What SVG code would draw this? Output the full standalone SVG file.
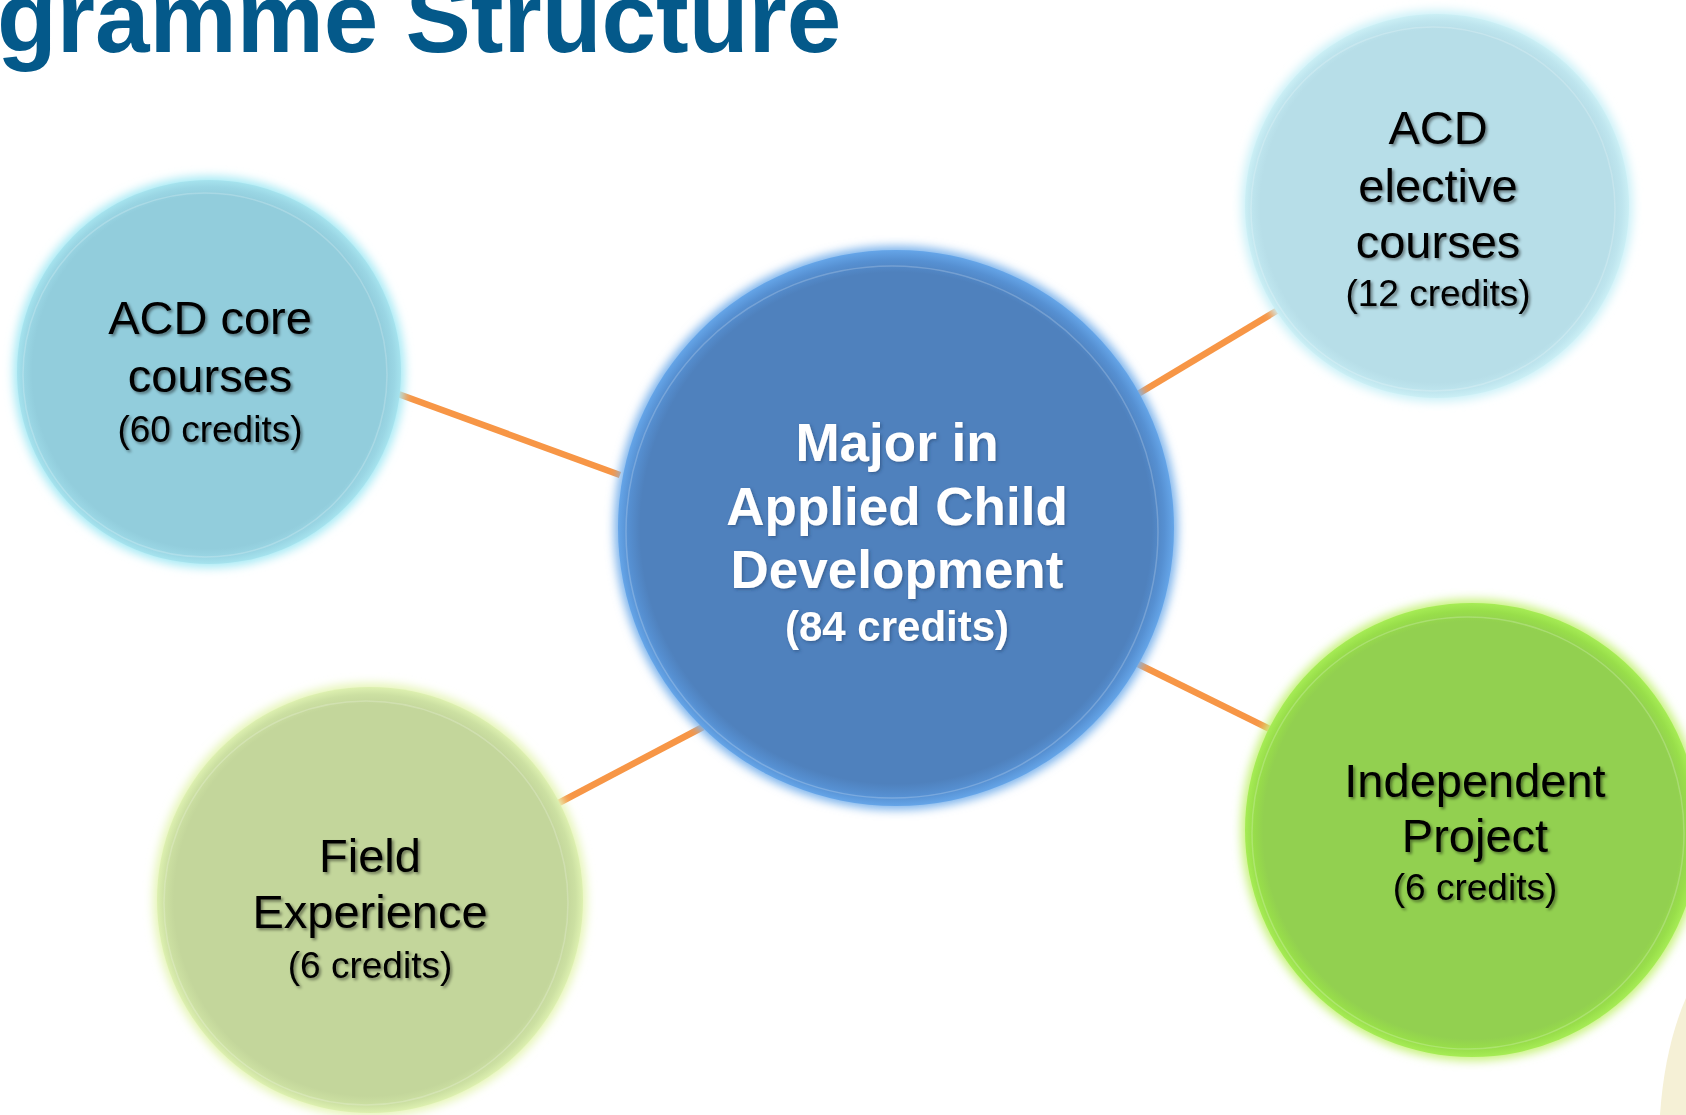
<svg xmlns="http://www.w3.org/2000/svg" width="1686" height="1115" viewBox="0 0 1686 1115">
<style>
.conn{stroke:#F79646;stroke-width:6.5;stroke-linecap:butt;fill:none}
.lbl{font-family:"Liberation Sans",Arial,sans-serif;text-anchor:middle;fill:#000}
.big{font-size:47px}
.small{font-size:37px}
.mainT{fill:#fff;font-weight:bold}
.title{font-family:"Liberation Sans",Arial,sans-serif;font-weight:bold;font-size:98px;fill:#04598A}
.ring{fill:none;stroke:#fff;stroke-opacity:0.2;stroke-width:1.5}
</style>
<defs>
<filter id="glow" x="-20%" y="-20%" width="140%" height="140%"><feGaussianBlur stdDeviation="5"/></filter>
<filter id="tsh" x="-10%" y="-30%" width="120%" height="160%"><feDropShadow dx="2" dy="2" stdDeviation="1.6" flood-color="#000" flood-opacity="0.45"/></filter>
<filter id="tshw" x="-10%" y="-30%" width="120%" height="160%"><feDropShadow dx="1.5" dy="1.5" stdDeviation="1.5" flood-color="#1c3a66" flood-opacity="0.5"/></filter>
<radialGradient id="gMain" cx="0.5" cy="0.5" r="0.5">
<stop offset="0" stop-color="#4F81BD"/><stop offset="0.92" stop-color="#4F81BD"/><stop offset="0.965" stop-color="#5690D2"/><stop offset="1" stop-color="#65A5E8"/>
</radialGradient>
<radialGradient id="gCore" cx="0.5" cy="0.5" r="0.5">
<stop offset="0" stop-color="#92CDDC"/><stop offset="0.92" stop-color="#92CDDC"/><stop offset="0.965" stop-color="#9AD6E4"/><stop offset="1" stop-color="#A6E3EE"/>
</radialGradient>
<radialGradient id="gElec" cx="0.5" cy="0.5" r="0.5">
<stop offset="0" stop-color="#B7DEE8"/><stop offset="0.92" stop-color="#B7DEE8"/><stop offset="0.965" stop-color="#BEE5EE"/><stop offset="1" stop-color="#CBEFF5"/>
</radialGradient>
<radialGradient id="gField" cx="0.5" cy="0.5" r="0.5">
<stop offset="0" stop-color="#C3D69B"/><stop offset="0.92" stop-color="#C3D69B"/><stop offset="0.965" stop-color="#CCE0A2"/><stop offset="1" stop-color="#DDF0B0"/>
</radialGradient>
<radialGradient id="gInd" cx="0.5" cy="0.5" r="0.5">
<stop offset="0" stop-color="#92D050"/><stop offset="0.92" stop-color="#92D050"/><stop offset="0.965" stop-color="#98DE4A"/><stop offset="1" stop-color="#A6EC55"/>
</radialGradient>
</defs>
<rect width="1686" height="1115" fill="#fff"/>
<path d="M1686 998 C1672 1030 1663 1070 1660 1115 L1686 1115 Z" fill="#F5F0D6"/>
<text class="title" x="-3" y="52">gramme Structure</text>
<g id="connectors">
<line class="conn" x1="390" y1="391" x2="620" y2="475"/>
<line class="conn" x1="1133" y1="397" x2="1278" y2="310"/>
<line class="conn" x1="1136" y1="663" x2="1278" y2="733"/>
<line class="conn" x1="553" y1="806" x2="703" y2="727"/>
</g>
<g id="node-main">
<circle cx="896" cy="528" r="282" fill="#7DB4EC" filter="url(#glow)"/>
<circle cx="896" cy="528" r="278" fill="url(#gMain)"/>
<circle class="ring" cx="892" cy="532" r="266"/>
<g class="lbl mainT" filter="url(#tshw)">
<text x="897" y="461" font-size="53">Major in</text>
<text x="897" y="525" font-size="53">Applied Child</text>
<text x="897" y="588" font-size="53">Development</text>
<text x="897" y="641" font-size="42">(84 credits)</text>
</g>
</g>
<g id="node-core">
<circle cx="209" cy="372" r="196" fill="#A8EAF5" filter="url(#glow)"/>
<circle cx="209" cy="372" r="192" fill="url(#gCore)"/>
<circle class="ring" cx="205" cy="375" r="182"/>
<g class="lbl" filter="url(#tsh)">
<text class="big" x="210" y="334">ACD core</text>
<text class="big" x="210" y="392">courses</text>
<text class="small" x="210" y="442">(60 credits)</text>
</g>
</g>
<g id="node-elective">
<circle cx="1437" cy="206" r="196" fill="#CCF1F8" filter="url(#glow)"/>
<circle cx="1437" cy="206" r="192" fill="url(#gElec)"/>
<circle class="ring" cx="1433" cy="209" r="182"/>
<g class="lbl" filter="url(#tsh)">
<text class="big" x="1438" y="144">ACD</text>
<text class="big" x="1438" y="202">elective</text>
<text class="big" x="1438" y="258">courses</text>
<text class="small" x="1438" y="306">(12 credits)</text>
</g>
</g>
<g id="node-field">
<circle cx="370" cy="900" r="217" fill="#E6F5B8" filter="url(#glow)"/>
<circle cx="370" cy="900" r="213" fill="url(#gField)"/>
<circle class="ring" cx="366" cy="903" r="202"/>
<g class="lbl" filter="url(#tsh)">
<text class="big" x="370" y="872">Field</text>
<text class="big" x="370" y="928">Experience</text>
<text class="small" x="370" y="978">(6 credits)</text>
</g>
</g>
<g id="node-independent">
<circle cx="1472" cy="830" r="231" fill="#C8F27E" filter="url(#glow)"/>
<circle cx="1472" cy="830" r="227" fill="url(#gInd)"/>
<circle class="ring" cx="1468" cy="833" r="216"/>
<g class="lbl" filter="url(#tsh)">
<text class="big" x="1475" y="797">Independent</text>
<text class="big" x="1475" y="852">Project</text>
<text class="small" x="1475" y="900">(6 credits)</text>
</g>
</g>
</svg>
